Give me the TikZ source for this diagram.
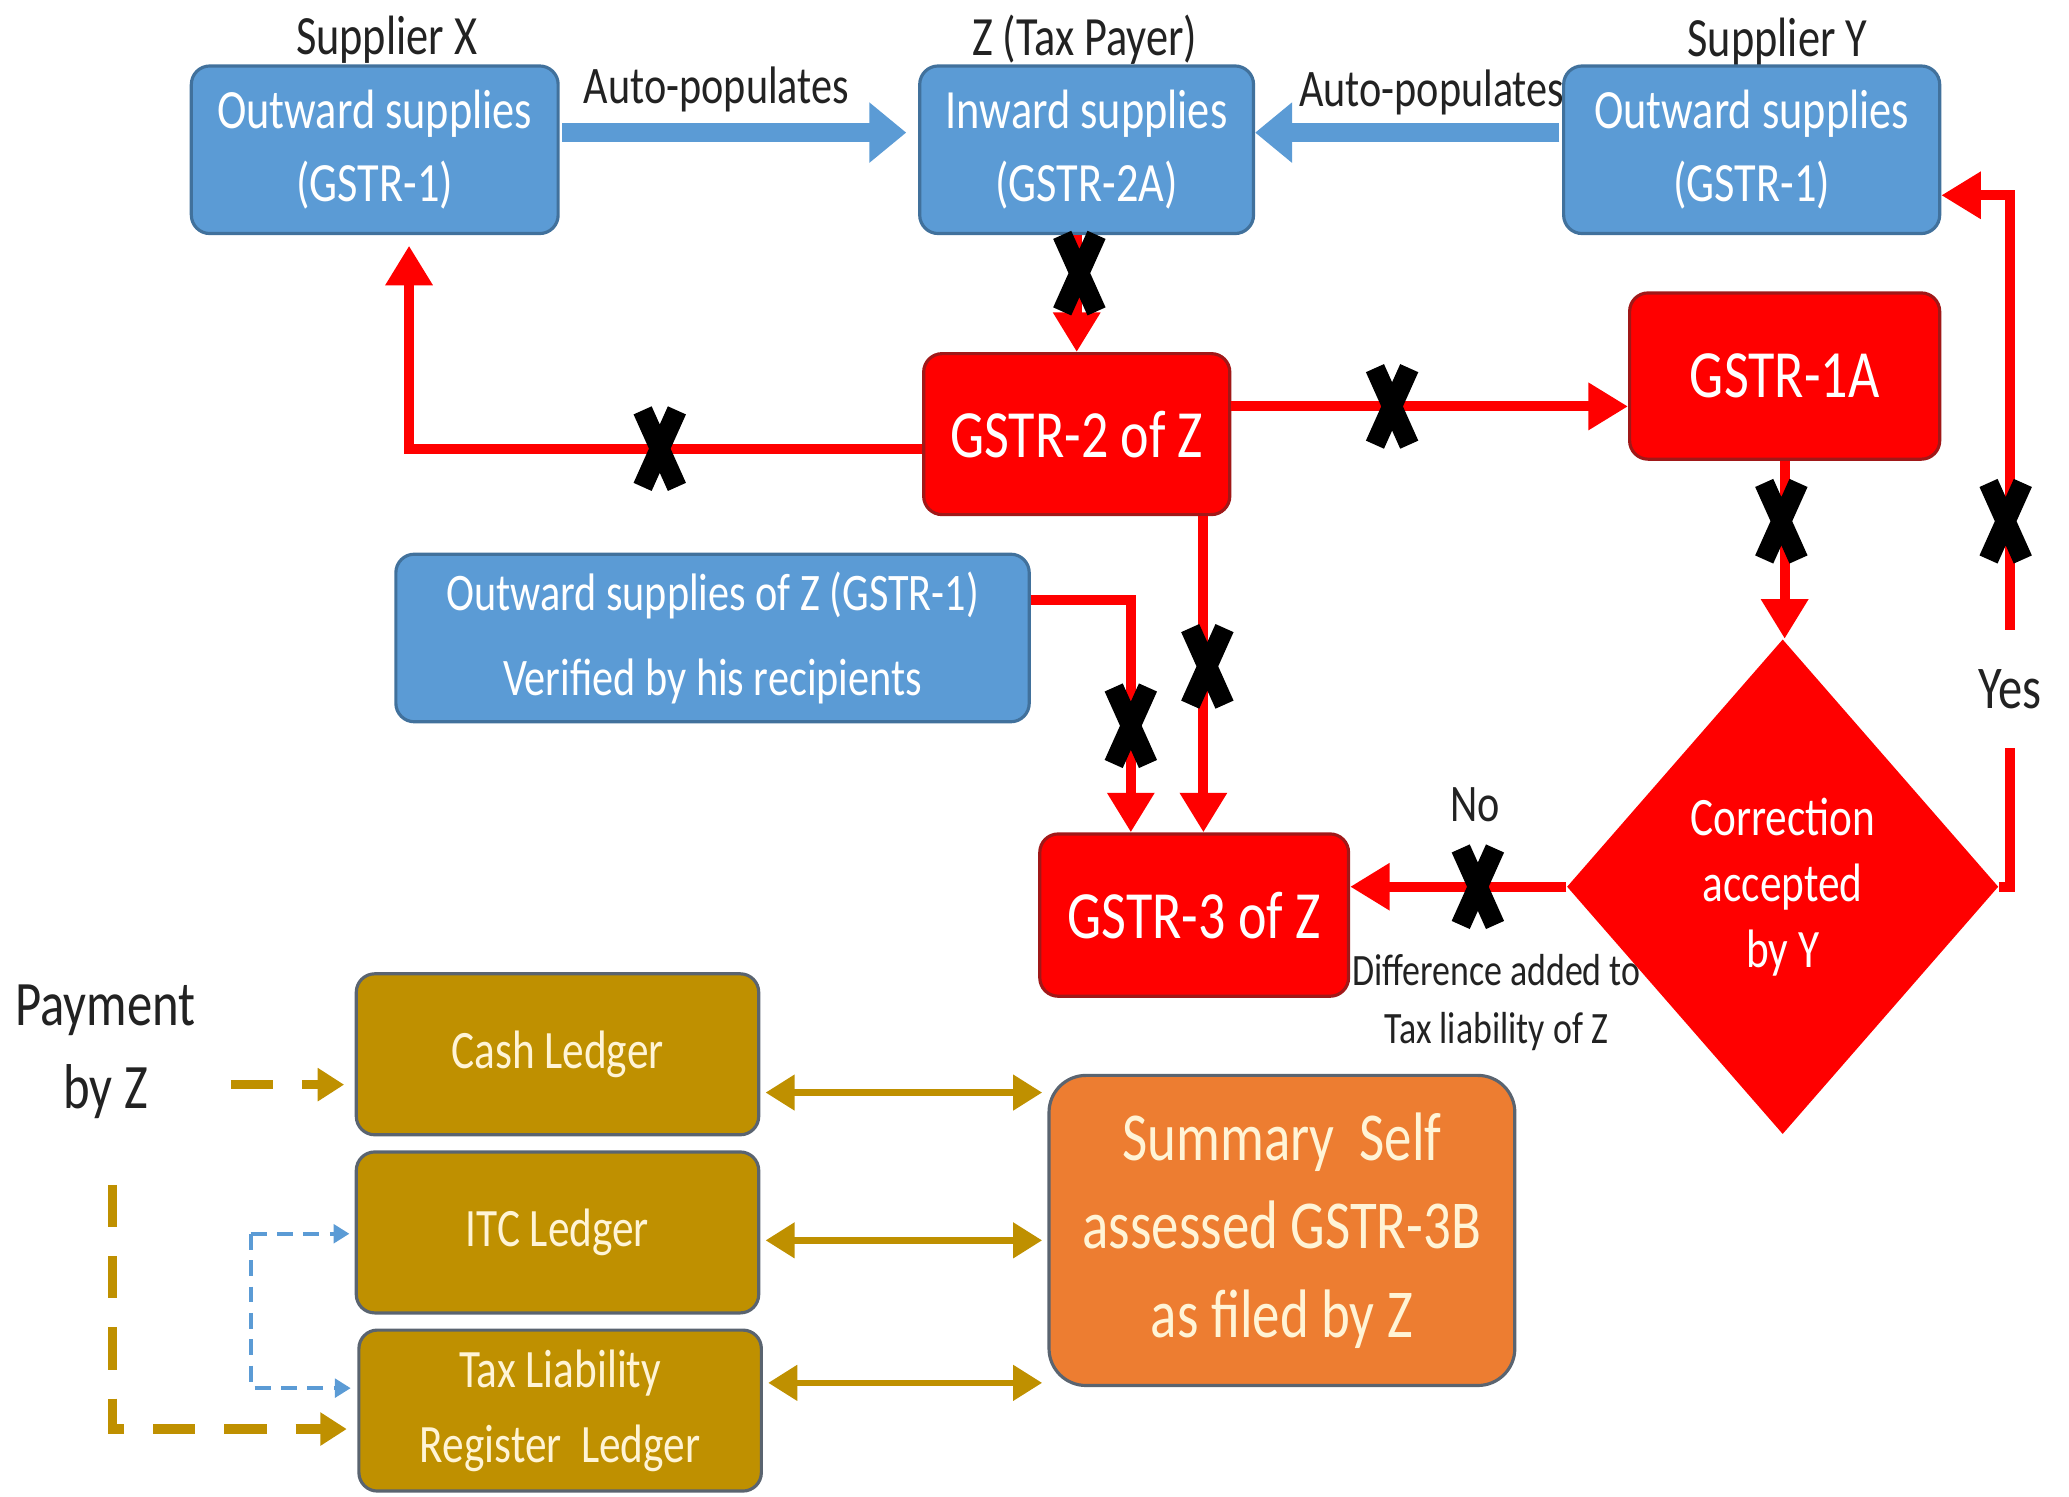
\documentclass[tikz,border=0pt]{standalone}
\usepackage{fontspec}
\setmainfont{Carlito}[FakeStretch=0.8]
\usetikzlibrary{arrows.meta,shapes.geometric,calc}
\definecolor{bfill}{HTML}{5B9BD5}
\definecolor{bdraw}{HTML}{41719C}
\definecolor{rfill}{HTML}{FF0000}
\definecolor{rdraw}{HTML}{A01818}
\definecolor{gfill}{HTML}{BF9000}
\definecolor{gdraw}{HTML}{5A6470}
\definecolor{ofill}{HTML}{ED7D31}
\definecolor{odraw}{HTML}{5A6470}
\definecolor{lbl}{HTML}{222222}
\definecolor{gtext}{HTML}{FFF4D6}
\newcommand\fs[2]{\fontsize{#1}{#2}\selectfont}
\begin{document}
\begin{tikzpicture}[x=0.5pt,y=-0.5pt,
  box/.style={rounded corners=7pt, line width=1.2pt, inner sep=2pt, align=center},
  bluebox/.style={box, fill=bfill, draw=bdraw, text=white, font=\fs{21pt}{27.5pt}},
  redbox/.style={box, fill=rfill, draw=rdraw, text=white, font=\fs{25.6pt}{30pt}},
  goldbox/.style={box, fill=gfill, draw=gdraw, text=gtext, font=\fs{20.5pt}{28.5pt}},
  lab/.style={text=lbl, align=center, inner sep=0pt},
  bluearrow/.style={draw=bfill, line width=7pt, -{Triangle[length=14pt,width=22pt]}},
  redarrow/.style={draw=rfill, line width=3.8pt, -{Triangle[length=15pt,width=17pt]}},
  golddash/.style={draw=gfill, line width=3.5pt, dash pattern=on 16pt off 11pt, -{Triangle[length=10pt,width=12pt]}},
  bluedash/.style={draw=bfill, line width=1.5pt, dash pattern=on 6pt off 4pt, -{Triangle[length=6pt,width=7pt]}},
  golddbl/.style={draw=gfill, line width=2.5pt, {Triangle[length=11pt,width=13pt]}-{Triangle[length=11pt,width=13pt]}},
  xmark/.pic={\draw[line width=7.5pt, black] (-13,-29) -- (13,29) (-13,29) -- (13,-29);}
]
\useasboundingbox (0,0) rectangle (1568,1134);

% top labels
\node[lab, font=\fs{21pt}{25pt}] (sx) at (293,30) {Supplier X};
\node[lab, font=\fs{21pt}{25pt}] (zt) at (822,30) {Z (Tax Payer)};
\node[lab, font=\fs{21pt}{25pt}] (sy) at (1347,32) {Supplier Y};
\node[lab, font=\fs{20pt}{24pt}] (ap1) at (543,68) {Auto-populates};
\node[lab, font=\fs{20pt}{24pt}] (ap2) at (1085,70) {Auto-populates};

% blue boxes
\node[bluebox, minimum width=139pt, minimum height=63.5pt] (bx) at (284,113.5) {Outward supplies\\(GSTR-1)};
\node[bluebox, minimum width=126.5pt, minimum height=63.5pt] (b2a) at (823.5,113.5) {Inward supplies\\(GSTR-2A)};
\node[bluebox, minimum width=142.5pt, minimum height=63.5pt] (by) at (1327.5,113.5) {Outward supplies\\(GSTR-1)};
\node[bluebox, font=\fs{20pt}{32.5pt}, minimum width=240pt, minimum height=63.5pt] (oz) at (540,483.5) {Outward supplies of Z (GSTR-1)\\Verified by his recipients};

% red boxes
\node[redbox, minimum width=116pt, minimum height=61pt] (g2) at (816,329) {GSTR-2 of Z};
\node[redbox, minimum width=117.5pt, minimum height=63pt] (g1a) at (1352.5,285) {GSTR-1A};
\node[redbox, minimum width=117pt, minimum height=61.5pt] (g3) at (905,693.5) {GSTR-3 of Z};

\node[lab, font=\fs{17pt}{22pt}] (diff) at (1134,760) {Difference added to\\Tax liability of Z};
\node[diamond, fill=rfill, minimum width=163.5pt, minimum height=187.5pt, inner sep=0pt, text=white, align=center, font=\fs{20.5pt}{25pt}] (dia) at (1351,672) {Correction\\accepted\\by Y};
\node[lab, font=\fs{20pt}{24pt}] (no) at (1118,610) {No};

% ledgers
\node[lab, font=\fs{24pt}{31.5pt}] (pay) at (80,797) {Payment\\by Z};
\node[goldbox, minimum width=152.5pt, minimum height=61pt] (cash) at (422.5,799) {Cash Ledger};
\node[goldbox, minimum width=152.5pt, minimum height=61pt] (itc) at (422.5,934) {ITC Ledger};
\node[goldbox, minimum width=152.5pt, minimum height=61pt] (tax) at (424.5,1069) {Tax Liability\\Register~~Ledger};
\node[box, rounded corners=14pt, fill=ofill, draw=odraw, text=gtext, font=\fs{26pt}{33.5pt}, minimum width=176.5pt, minimum height=117.5pt] (summ) at (971.5,932.5) {Summary~~Self\\assessed GSTR-3B\\as filed by Z};

% blue connectors
\draw[bluearrow] ($(bx.east)+(2,-13)$) -- ($(b2a.west)+(-9,-13)$);
\draw[bluearrow] ($(by.west)+(-2,-13)$) -- ($(b2a.east)+(0,-13)$);

% red connectors
\draw[redarrow] (b2a.south -| g2.north) -- (g2.north);
\draw[redarrow] ($(g2.east)+(0,-21)$) -- ($(g1a.west)+(0,23)$);
\draw[redarrow] ($(g2.west)+(0,11)$) -| ($(bx.south)+(26,8)$);
\draw[redarrow] (g1a.south) -- (g1a.south |- dia.north);
\draw[redarrow] ($(g2.south)+(96,0)$) -- ($(g3.north)+(7,0)$);
\draw[redarrow] ($(oz.east)+(0,-28.5)$) -| ($(g3.north)+(-48,0)$);
\draw[redarrow] (dia.west) -- ($(g3.east)+(0,-21.5)$);
\draw[redarrow] (dia.east) -| node[pos=0.643, fill=white, text=lbl, inner sep=2pt, minimum height=45pt, font=\fs{23pt}{26pt}] (yes) {Yes} ($(by.east)+(52,34.5)$) -- ($(by.east)+(0,34.5)$);

% gold / dashed connectors
\coordinate (p1) at (175,822);
\coordinate (p2) at (85,898);
\coordinate (b1) at (190,935);
\draw[golddash] (p1) -- ($(cash.west)+(-8,23)$);
\draw[golddash] (p2) |- ($(tax.west)+(-8,14)$);
\draw[bluedash] (b1) -- ($(itc.west)+(-4,1)$);
\draw[bluedash] (b1) |- ($(tax.west)+(-5,-17)$);
\draw[golddbl] ($(cash.east)+(4,29)$) -- ($(summ.west)+(-4,-104.5)$);
\draw[golddbl] ($(itc.east)+(4,6)$) -- ($(summ.west)+(-4,7.5)$);
\draw[golddbl] ($(tax.east)+(4,-21)$) -- ($(summ.west)+(-4,115.5)$);

% X marks
\pic at (818,207) {xmark};
\pic at (500,340) {xmark};
\pic at (1055,308) {xmark};
\pic at (1350,395) {xmark};
\pic at (1520,395) {xmark};
\pic at (915,505) {xmark};
\pic at (857,550) {xmark};
\pic at (1120,672) {xmark};
\end{tikzpicture}
\end{document}
